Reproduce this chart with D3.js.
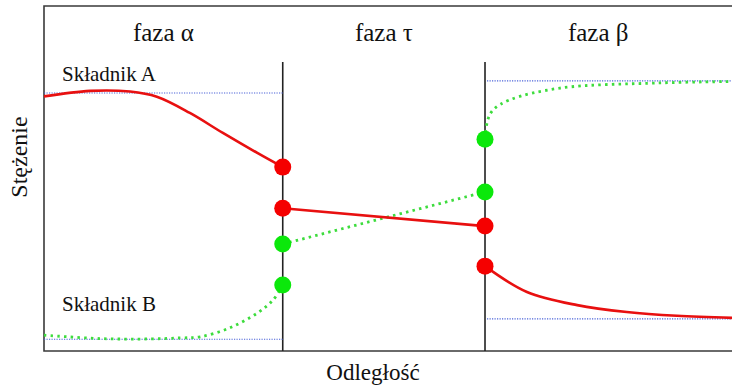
<!DOCTYPE html>
<html>
<head>
<meta charset="utf-8">
<script src="https://cdn.jsdelivr.net/npm/d3@7"></script>
<style>
  html, body { margin: 0; padding: 0; background: #fff; }
  svg { display: block; }
  text { font-family: "Liberation Serif", "Times New Roman", serif; fill: #111; }
</style>
</head>
<body>
<svg id="chart" width="732" height="388"></svg>
<script>
// Phase boundaries (distance units) and phase names
const phaseEdges = [0, 34.7, 64.1, 97];
const phaseNames = ["faza α", "faza τ", "faza β"];

// Component A (solid red) concentration profiles
const aAlpha = [[0, 73.8], [6.7, 75.4], [12.5, 75.2], [16.4, 73.7], [21.2, 69.0], [26.0, 63.2], [31.0, 57.4], [34.7, 53.3]];
const aTau = [[34.7, 41.4], [64.1, 36.2]];
const aBeta = [[64.1, 24.6], [70.2, 17.1], [77.5, 13.3], [84.7, 11.3], [92, 10.2], [100, 9.6]];

// Component B (dotted green) concentration profiles
const bAlpha = [[0, 4.6], [8.1, 3.6], [15.4, 3.5], [19.8, 3.8], [22.7, 4.1], [27.0, 6.7], [31.0, 11.0], [33.3, 14.8], [34.7, 19.1]];
const bTau = [[34.7, 31.0], [64.1, 46.1]];
const bBeta = [[64.1, 61.4], [64.5, 67.0], [65.3, 69.9], [67.7, 72.8], [75.0, 76.2], [89.5, 77.7], [100, 78.1]];

// Interface concentrations (circles)
const aInterface = [[34.7, 53.3], [34.7, 41.4], [64.1, 36.2], [64.1, 24.6]];
const bInterface = [[34.7, 31.0], [34.7, 19.1], [64.1, 46.1], [64.1, 61.4]];

// Bulk equilibrium levels (blue dotted): [x0, x1, level]
const eqLevels = [[0, 34.7, 74.8], [64.1, 100, 78.3], [0, 34.7, 3.4], [64.1, 100, 9.3]];

const svg = d3.select("#chart");
const x = d3.scaleLinear().domain([0, 100]).range([44, 732]);
const y = d3.scaleLinear().domain([0, 100]).range([351, 6]);

const line = d3.line().x(d => x(d[0])).y(d => y(d[1])).curve(d3.curveCatmullRom.alpha(0.5));
const straight = d3.line().x(d => x(d[0])).y(d => y(d[1]));

// Frame: top, left and bottom edges
svg.append("path")
  .attr("d", `M${x(101)},${y(100)}H${x(0)}V${y(0)}H${x(101)}`)
  .attr("fill", "none").attr("stroke", "#3a3a3a").attr("stroke-width", 1.6);

// Phase boundaries
svg.selectAll("line.boundary").data([phaseEdges[1], phaseEdges[2]]).join("line")
  .attr("class", "boundary")
  .attr("x1", d => x(d)).attr("x2", d => x(d))
  .attr("y1", 62).attr("y2", y(0))
  .attr("stroke", "#222").attr("stroke-width", 1.6);

// Equilibrium levels
svg.selectAll("line.eq").data(eqLevels).join("line")
  .attr("class", "eq")
  .attr("x1", d => x(d[0]) + (d[0] > 0 ? 2 : 0)).attr("x2", d => x(d[1]))
  .attr("y1", d => y(d[2])).attr("y2", d => y(d[2]))
  .attr("stroke", "#4a62d8").attr("stroke-width", 1.1).attr("stroke-dasharray", "1.2,1.3");

// Component B profiles
svg.selectAll("path.b").data([bAlpha, bTau, bBeta]).join("path")
  .attr("class", "b")
  .attr("d", d => d.length > 2 ? line(d) : straight(d))
  .attr("fill", "none").attr("stroke", "#3ddc3d").attr("stroke-width", 2.8)
  .attr("stroke-dasharray", "2.5,4.2");

// Component A profiles
svg.selectAll("path.a").data([aAlpha, aTau, aBeta]).join("path")
  .attr("class", "a")
  .attr("d", d => d.length > 2 ? line(d) : straight(d))
  .attr("fill", "none").attr("stroke", "#e81010").attr("stroke-width", 2.6);

// Interface points
svg.selectAll("circle.a").data(aInterface).join("circle")
  .attr("class", "a").attr("cx", d => x(d[0])).attr("cy", d => y(d[1])).attr("r", 8.5)
  .attr("fill", "#f50000");
svg.selectAll("circle.b").data(bInterface).join("circle")
  .attr("class", "b").attr("cx", d => x(d[0])).attr("cy", d => y(d[1])).attr("r", 8.5)
  .attr("fill", "#0be80b");

// Phase names
svg.selectAll("text.phase").data(phaseNames).join("text")
  .attr("class", "phase")
  .attr("x", (d, i) => x((phaseEdges[i] + phaseEdges[i + 1]) / 2))
  .attr("y", 41)
  .attr("text-anchor", "middle")
  .attr("font-size", 25)
  .text(d => d);

// Component labels
svg.append("text").attr("x", 62).attr("y", 81).attr("font-size", 21).text("Składnik A");
svg.append("text").attr("x", 62).attr("y", 311).attr("font-size", 21).text("Składnik B");

// Axis titles
svg.append("text")
  .attr("transform", `translate(27,${157}) rotate(-90)`)
  .attr("text-anchor", "middle").attr("font-size", 24)
  .text("Stężenie");
svg.append("text")
  .attr("x", 373).attr("y", 380)
  .attr("text-anchor", "middle").attr("font-size", 23)
  .text("Odległość");
</script>
</body>
</html>
